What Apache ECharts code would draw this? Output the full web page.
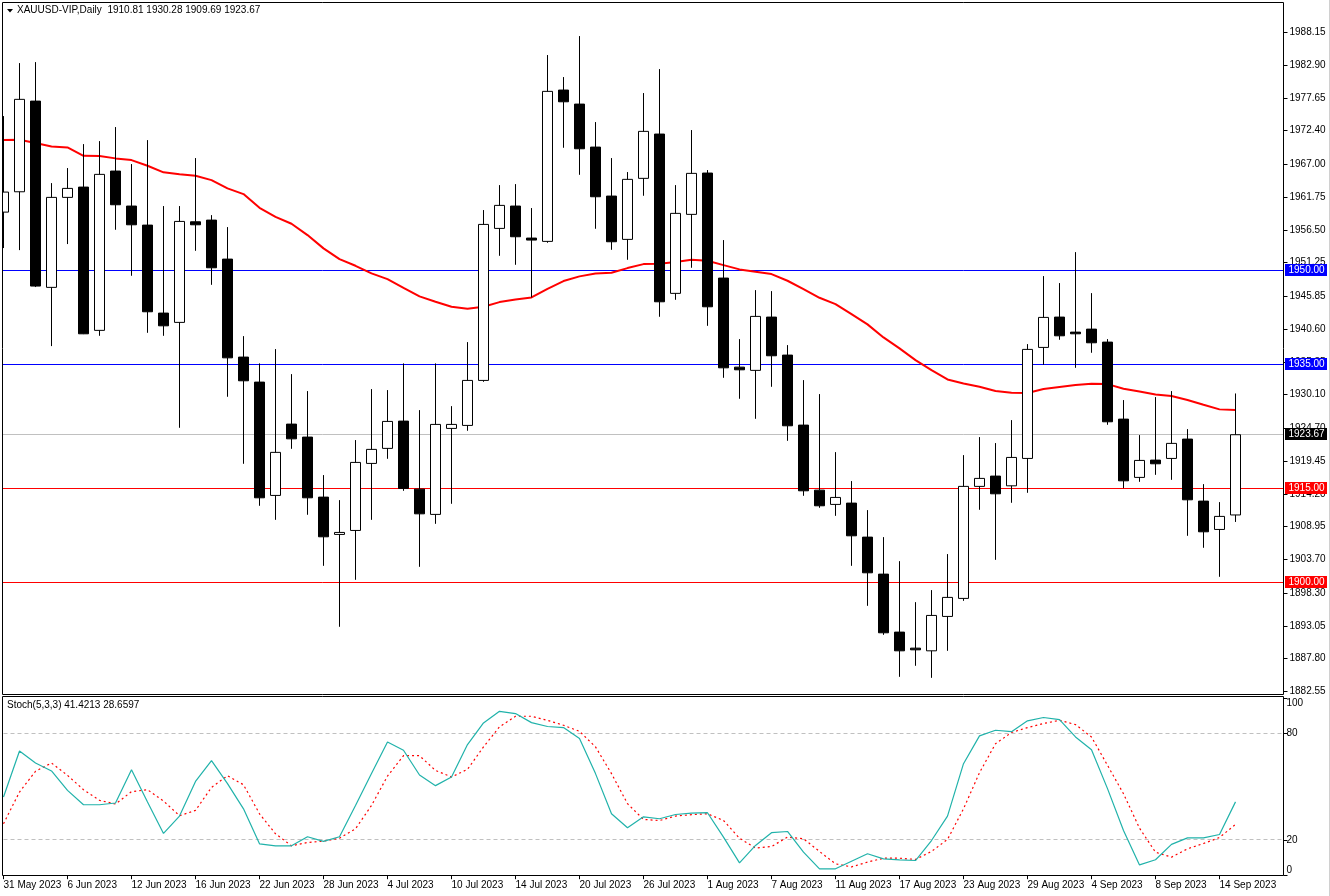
<!DOCTYPE html>
<html><head><meta charset="utf-8">
<style>html,body{margin:0;padding:0;background:#fff}#c{width:1330px;height:896px}</style>
<script src="https://cdn.jsdelivr.net/npm/echarts@6/dist/echarts.min.js"></script>
</head><body><div id="c"></div>
<script>
const dates = ['31 May 2023','1 Jun 2023','2 Jun 2023','5 Jun 2023','6 Jun 2023','7 Jun 2023','8 Jun 2023','9 Jun 2023','12 Jun 2023','13 Jun 2023','14 Jun 2023','15 Jun 2023','16 Jun 2023','19 Jun 2023','20 Jun 2023','21 Jun 2023','22 Jun 2023','23 Jun 2023','26 Jun 2023','27 Jun 2023','28 Jun 2023','29 Jun 2023','30 Jun 2023','3 Jul 2023','4 Jul 2023','5 Jul 2023','6 Jul 2023','7 Jul 2023','10 Jul 2023','11 Jul 2023','12 Jul 2023','13 Jul 2023','14 Jul 2023','17 Jul 2023','18 Jul 2023','19 Jul 2023','20 Jul 2023','21 Jul 2023','24 Jul 2023','25 Jul 2023','26 Jul 2023','27 Jul 2023','28 Jul 2023','31 Jul 2023','1 Aug 2023','2 Aug 2023','3 Aug 2023','4 Aug 2023','7 Aug 2023','8 Aug 2023','9 Aug 2023','10 Aug 2023','11 Aug 2023','14 Aug 2023','15 Aug 2023','16 Aug 2023','17 Aug 2023','18 Aug 2023','21 Aug 2023','22 Aug 2023','23 Aug 2023','24 Aug 2023','25 Aug 2023','28 Aug 2023','29 Aug 2023','30 Aug 2023','31 Aug 2023','1 Sep 2023','4 Sep 2023','5 Sep 2023','6 Sep 2023','7 Sep 2023','8 Sep 2023','11 Sep 2023','12 Sep 2023','13 Sep 2023','14 Sep 2023','15 Sep 2023','','',''];
// [open, close, low, high]
const ohlc = [
[1959.34,1962.55,1953.58,1974.73],[1962.60,1977.41,1953.25,1983.22],[1977.13,1947.49,1947.33,1983.38],[1947.28,1961.70,1937.87,1963.99],
[1961.70,1963.14,1954.22,1966.40],[1963.35,1939.84,1939.79,1970.24],[1940.39,1965.39,1939.52,1970.72],[1965.92,1960.52,1956.51,1972.97],
[1960.31,1957.31,1949.14,1967.04],[1957.26,1943.37,1940.00,1970.88],[1943.16,1941.12,1939.52,1960.31],[1941.67,1957.85,1924.78,1960.31],
[1957.79,1957.31,1953.14,1968.00],[1958.06,1950.42,1947.69,1958.86],[1951.81,1935.99,1929.75,1956.94],[1936.11,1932.31,1919.01,1939.47],
[1932.10,1913.56,1912.28,1935.10],[1913.94,1920.84,1910.03,1937.39],[1925.37,1923.01,1921.41,1933.38],[1923.29,1913.56,1910.84,1930.66],
[1913.67,1907.31,1902.66,1917.20],[1907.69,1908.01,1892.89,1913.19],[1908.33,1919.23,1900.42,1922.81],[1919.07,1921.32,1910.03,1930.98],
[1921.48,1925.80,1919.81,1930.82],[1925.85,1915.07,1914.68,1935.10],[1914.95,1910.99,1902.50,1927.61],[1910.90,1925.32,1909.39,1935.10],
[1924.68,1925.32,1912.60,1928.25],[1925.16,1932.37,1924.30,1938.51],[1932.37,1957.37,1932.15,1959.67],[1956.73,1960.42,1952.34,1963.67],
[1960.31,1955.39,1950.90,1963.83],[1955.18,1954.86,1945.67,1959.99],[1954.65,1978.69,1954.43,1984.51],[1978.90,1977.02,1969.65,1980.98],
[1976.65,1969.49,1965.32,1987.55],[1969.76,1961.80,1956.67,1973.77],[1961.91,1954.59,1953.30,1968.00],[1954.97,1964.59,1951.70,1965.76],
[1964.75,1972.28,1961.96,1978.42],[1971.85,1944.97,1942.57,1982.26],[1946.32,1959.14,1945.29,1963.67],[1958.98,1965.55,1950.42,1972.49],
[1965.60,1944.17,1941.12,1966.08],[1948.77,1934.39,1932.79,1954.86],[1934.50,1934.07,1929.43,1938.99],[1933.98,1942.63,1926.22,1946.84],
[1942.52,1936.32,1931.35,1946.68],[1936.43,1925.10,1922.69,1938.03],[1925.21,1914.68,1913.88,1932.42],[1914.79,1912.28,1911.96,1930.18],
[1912.50,1913.62,1910.67,1920.88],[1912.71,1907.47,1902.66,1916.24],[1907.26,1901.54,1896.25,1911.59],[1901.33,1891.93,1891.60,1907.26],
[1892.04,1889.04,1884.87,1903.41],[1889.47,1889.20,1886.64,1896.84],[1889.04,1894.71,1884.71,1898.77],[1894.55,1897.60,1889.04,1904.54],
[1897.44,1915.39,1897.05,1920.40],[1915.39,1916.67,1911.64,1923.29],[1917.04,1914.20,1903.62,1922.33],[1915.48,1920.03,1912.76,1926.01],
[1919.87,1937.34,1914.36,1938.19],[1937.66,1942.47,1934.87,1949.09],[1942.52,1939.52,1938.88,1947.97],[1940.11,1939.84,1934.39,1952.93],
[1940.59,1938.40,1936.80,1946.36],[1938.51,1925.74,1925.26,1938.99],[1926.17,1916.28,1915.11,1929.22],[1916.83,1919.55,1916.12,1923.61],
[1919.60,1919.01,1917.24,1929.70],[1919.87,1922.28,1916.44,1930.66],[1922.97,1913.24,1907.47,1924.57],[1913.03,1908.11,1905.55,1915.75],
[1908.49,1910.58,1900.90,1912.87],[1910.81,1923.67,1909.69,1930.28]];
const maValues = [1970.88,1970.93,1970.40,1969.87,1969.71,1968.37,1968.32,1967.95,1967.68,1966.77,1965.71,1965.39,1965.16,1964.47,1963.14,1962.23,1960.03,1958.59,1957.47,1955.66,1953.53,1951.81,1950.74,1949.52,1948.61,1947.21,1945.83,1944.97,1944.17,1943.85,1944.17,1944.92,1945.35,1945.67,1947.05,1948.29,1949.04,1949.52,1949.62,1950.37,1951.01,1951.06,1951.33,1951.70,1951.54,1950.85,1950.16,1949.78,1949.41,1948.34,1947.00,1945.61,1944.60,1943.00,1941.35,1939.26,1937.50,1935.63,1934.02,1932.53,1931.89,1931.35,1930.66,1930.39,1930.34,1930.98,1931.30,1931.62,1931.83,1931.78,1931.03,1930.61,1930.13,1929.86,1929.22,1928.46,1927.73,1927.61];
const stochMain = [44.2,70.2,63.4,58.9,47.9,39.8,39.8,40.8,59.6,41.3,23.6,33.4,53.0,64.7,51.7,37.5,17.7,16.6,16.6,21.7,19.1,21.7,39.4,57.4,75.3,70.6,56.6,50.6,55.5,73.8,86.0,92.6,91.3,86.2,84.0,83.4,77.2,57.4,34.7,26.8,33.0,31.9,34.3,35.1,35.3,21.5,7.0,16.8,24.0,24.7,13.0,3.6,3.6,7.9,12.1,9.2,8.7,8.3,19.6,33.4,63.0,78.7,81.9,81.1,87.2,89.1,87.9,78.1,70.9,48.9,25.3,5.8,8.7,17.4,21.1,21.1,23.0,41.42];
const stochSignal = [29.1,47.0,58.7,63.4,56.4,48.3,42.3,40.2,47.2,48.3,41.9,33.6,36.6,49.6,56.2,51.1,34.7,23.4,16.6,18.5,19.2,20.9,26.2,39.4,56.0,67.5,67.5,59.2,55.5,59.8,72.5,83.8,89.8,89.8,87.5,84.7,81.3,72.5,57.4,40.4,31.5,30.9,33.4,34.2,34.7,30.9,20.9,15.3,16.2,21.5,20.6,13.4,6.4,4.7,7.4,9.6,9.6,8.9,13.4,20.2,37.5,57.9,74.3,80.6,83.4,85.7,87.5,85.1,78.1,62.1,46.0,26.6,13.0,10.2,14.9,17.9,21.3,28.66];
const priceTicks = [1988.15,1982.90,1977.65,1972.40,1967.00,1961.75,1956.50,1951.25,1945.85,1940.60,1935.35,1930.10,1924.70,1919.45,1914.20,1908.95,1903.70,1898.30,1893.05,1887.80,1882.55];
const stochTicks = [0,20,80,100];
const priceLevels = [1950,1935,1915,1900,1923.67];
const levelColors = ['#0000ff','#0000ff','#ff0000','#ff0000','#c0c0c0'];
const labelColors = ['#0000ff','#0000ff','#ff0000','#ff0000','#000000'];
const stochLevels = [80,20];
const titleText = 'XAUUSD-VIP,Daily  1910.81 1930.28 1909.69 1923.67';
const stochText = 'Stoch(5,3,3) 41.4213 28.6597';

const FONT = '"Liberation Sans",sans-serif';
const FONT_SIZE = 10;
const crisp = v => Math.floor(v) + 0.5;

function renderPriceLevel(params, api) {
  const cs = params.coordSys, i = api.value(0), v = api.value(1);
  const y = crisp(api.coord([0, v])[1]);
  return { type: 'group', children: [
    { type: 'line', shape: {x1: cs.x - 1, y1: y, x2: cs.x + cs.width, y2: y}, style: {stroke: levelColors[i], lineWidth: 1} },
    { type: 'rect', shape: {x: cs.x + cs.width + 1.5, y: y - 6.5, width: 42, height: 12}, style: {fill: labelColors[i]} },
    { type: 'text', style: {x: cs.x + cs.width + 5, y: y - 0.5, text: v.toFixed(2), fill: '#fff', font: FONT_SIZE + 'px ' + FONT, textVerticalAlign: 'middle'} }
  ]};
}
function renderStochLevel(params, api) {
  const cs = params.coordSys;
  const y = crisp(api.coord([0, api.value(1)])[1]);
  return { type: 'line', shape: {x1: cs.x, y1: y, x2: cs.x + cs.width, y2: y}, style: {stroke: '#c0c0c0', lineWidth: 1, lineDash: [4, 3]} };
}
const frame = (x1, y1, x2, y2) => ({ type: 'rect', z: 10, silent: true, shape: {x: x1, y: y1, width: x2 - x1, height: y2 - y1}, style: {fill: 'none', stroke: '#000', lineWidth: 1} });

const chart = echarts.init(document.getElementById('c'), null, {renderer: 'canvas'});
chart.setOption({
  animation: false,
  backgroundColor: '#fff',
  title: [
    {text: titleText, left: 17, top: 5.5, padding: 0, textStyle: {fontFamily: FONT, fontSize: FONT_SIZE, fontWeight: 'normal', color: '#000'}},
    {text: stochText, left: 7, top: 700.5, padding: 0, textStyle: {fontFamily: FONT, fontSize: FONT_SIZE, fontWeight: 'normal', color: '#000'}}
  ],
  graphic: [
    {type: 'rect', z: 9, silent: true, shape: {x: 0, y: 0, width: 2.5, height: 696}, style: {fill: '#fff'}},
    frame(2.5, 2.5, 1283.5, 694.5),
    frame(2.5, 696.5, 1283.5, 875.5),
    {type: 'polygon', silent: true, shape: {points: [[7, 9], [13, 9], [10, 12.5]]}, style: {fill: '#000'}},
    {type: 'line', silent: true, shape: {x1: 1329.5, y1: 0, x2: 1329.5, y2: 896}, style: {stroke: '#d0d0d0', lineWidth: 1}}
  ],
  grid: [
    {left: 3.5, top: 2, width: 1280, height: 692},
    {left: 3.5, top: 696.5, width: 1280, height: 179}
  ],
  xAxis: [
    {type: 'category', gridIndex: 0, data: dates, boundaryGap: false, containShape: false, axisLine: {show: false}, axisTick: {show: false}, axisLabel: {show: false}, splitLine: {show: false}},
    {type: 'category', gridIndex: 1, data: dates, boundaryGap: false,
      axisLine: {show: false},
      axisTick: {show: true, interval: 3, length: 4, lineStyle: {color: '#000'}},
      axisLabel: {show: true, interval: 3, align: 'left', margin: 5, color: '#000', fontFamily: FONT, fontSize: FONT_SIZE, hideOverlap: false, showMinLabel: true, showMaxLabel: false},
      splitLine: {show: false}}
  ],
  yAxis: [
    {type: 'value', gridIndex: 0, position: 'right', min: 1882.12, max: 1993.01, scale: true,
      axisLine: {show: false},
      axisTick: {show: true, length: 4, lineStyle: {color: '#000'}, customValues: priceTicks},
      axisLabel: {show: true, margin: 6, color: '#000', fontFamily: FONT, fontSize: FONT_SIZE, customValues: priceTicks, formatter: v => v.toFixed(2)},
      splitLine: {show: false}},
    {type: 'value', gridIndex: 1, position: 'right', min: -0.17, max: 100.96,
      axisLine: {show: false},
      axisTick: {show: true, length: 4, lineStyle: {color: '#000'}, customValues: stochTicks},
      axisLabel: {show: true, margin: 3, color: '#000', fontFamily: FONT, fontSize: FONT_SIZE, customValues: stochTicks, verticalAlignMaxLabel: 'top', verticalAlignMinLabel: 'bottom', formatter: v => String(v)},
      splitLine: {show: false}}
  ],
  series: [
    {name: 'Levels', type: 'custom', xAxisIndex: 0, yAxisIndex: 0, z: 1, silent: true, renderItem: renderPriceLevel,
      encode: {x: 0, y: 1}, data: priceLevels.map((v, i) => [i, v])},
    {name: 'MA', type: 'line', xAxisIndex: 0, yAxisIndex: 0, z: 2, data: maValues, showSymbol: false, symbol: 'none', silent: true,
      lineStyle: {color: '#ff0000', width: 2}},
    {name: 'XAUUSD', type: 'candlestick', xAxisIndex: 0, yAxisIndex: 0, z: 3, data: ohlc, barWidth: 10, large: false, silent: true,
      itemStyle: {color: '#ffffff', color0: '#000000', borderColor: '#000000', borderColor0: '#000000', borderColorDoji: '#000000', borderWidth: 1}},
    {name: 'StochLevels', type: 'custom', xAxisIndex: 1, yAxisIndex: 1, z: 1, silent: true, renderItem: renderStochLevel,
      encode: {x: 0, y: 1}, data: stochLevels.map((v, i) => [i, v])},
    {name: 'Main', type: 'line', xAxisIndex: 1, yAxisIndex: 1, z: 3, data: stochMain, showSymbol: false, symbol: 'none', silent: true,
      lineStyle: {color: '#20b2aa', width: 1.2}},
    {name: 'Signal', type: 'line', xAxisIndex: 1, yAxisIndex: 1, z: 2, data: stochSignal, showSymbol: false, symbol: 'none', silent: true,
      lineStyle: {color: '#ff0000', width: 1.2, type: [2, 3]}}
  ]
});
</script></body></html>
